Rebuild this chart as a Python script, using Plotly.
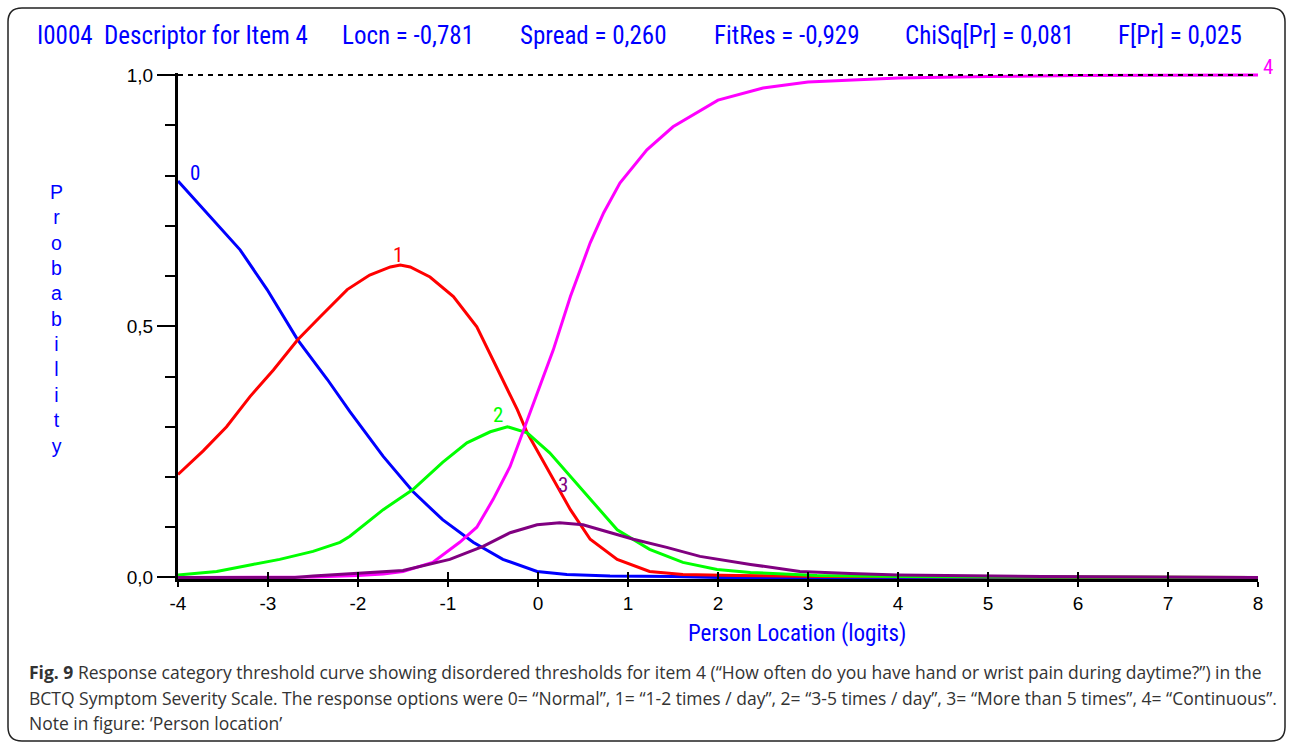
import plotly.graph_objects as go

# ---------------- data ----------------
x_cat0 = [-4, -3.64, -3.31, -3.01, -2.67, -2.34, -2.09, -1.72, -1.39, -1.06, -0.72, -0.39, -0.01, 0.32, 0.8, 1.5, 2.0, 8]
p_cat0 = [0.789, 0.718, 0.652, 0.573, 0.473, 0.394, 0.330, 0.241, 0.171, 0.115, 0.070, 0.036, 0.012, 0.006, 0.003, 0.002, 0.0, 0.0]

x_cat1 = [-4, -3.72, -3.46, -3.2, -2.94, -2.67, -2.42, -2.12, -1.87, -1.64, -1.53, -1.42, -1.2, -0.94, -0.68, -0.46,
          -0.23, -0.12, 0.13, 0.36, 0.58, 0.88, 1.24, 1.61, 2.2, 3.2, 8]
p_cat1 = [0.205, 0.252, 0.300, 0.360, 0.413, 0.473, 0.519, 0.573, 0.602, 0.618, 0.622, 0.618, 0.598, 0.559, 0.499, 0.419,
          0.334, 0.288, 0.209, 0.135, 0.076, 0.036, 0.012, 0.006, 0.004, 0.002, 0.0]

x_cat2 = [-4, -3.57, -3.17, -2.87, -2.5, -2.2, -2.09, -1.72, -1.39, -1.06, -0.79, -0.53, -0.34, -0.12, 0.13, 0.36,
          0.58, 0.88, 1.24, 1.61, 1.99, 2.36, 3.1, 4, 5.6, 8]
p_cat2 = [0.005, 0.012, 0.026, 0.036, 0.052, 0.070, 0.082, 0.135, 0.175, 0.229, 0.268, 0.290, 0.300, 0.288, 0.248, 0.201,
          0.155, 0.095, 0.056, 0.030, 0.016, 0.010, 0.004, 0.002, 0.001, 0.0]

x_cat3 = [-4, -2.7, -2.5, -2.0, -1.5, -0.98, -0.61, -0.31, -0.01, 0.24, 0.5, 0.77, 1.06, 1.43, 1.8, 2.36, 2.91, 3.47,
          4.0, 5.6, 8]
p_cat3 = [0.0, 0.0, 0.003, 0.008, 0.014, 0.036, 0.062, 0.089, 0.105, 0.109, 0.105, 0.091, 0.076, 0.060, 0.042, 0.026,
          0.012, 0.008, 0.005, 0.002, 0.0]

x_cat4 = [-4, -2.5, -2.0, -1.72, -1.5, -1.17, -0.87, -0.68, -0.5, -0.31, -0.2, -0.09, -0.01, 0.17, 0.36, 0.58, 0.73,
          0.91, 1.21, 1.5, 2.0, 2.5, 3.0, 4.0, 5.0, 6.0, 8.0]
p_cat4 = [0.0, 0.001, 0.004, 0.007, 0.012, 0.030, 0.070, 0.100, 0.155, 0.221, 0.274, 0.328, 0.365, 0.453, 0.559, 0.666,
          0.726, 0.785, 0.851, 0.897, 0.950, 0.974, 0.986, 0.994, 0.997, 0.999, 1.0]

categories = ["0", "1", "2", "3", "4"]
colors = ["#0000FF", "#FF0000", "#00FF00", "#800080", "#FF00FF"]
label_pos = [(-3.81, 0.805), (-1.56, 0.642), (-0.44, 0.324), (0.28, 0.185), (8.11, 1.016)]

x_ticks = [-4, -3, -2, -1, 0, 1, 2, 3, 4, 5, 6, 7, 8]
x_ticktext = ["-4", "-3", "-2", "-1", "0", "1", "2", "3", "4", "5", "6", "7", "8"]

title_parts = ["I0004  Descriptor for Item 4", "Locn = -0,781", "Spread = 0,260", "FitRes = -0,929",
               "ChiSq[Pr] = 0,081", "F[Pr] = 0,025"]
title_px = [35, 340, 518, 712, 903, 1116]

caption_lines = [
    "<b>Fig. 9</b> Response category threshold curve showing disordered thresholds for item 4 (\u201cHow often do you have hand or wrist pain during daytime?\u201d) in the",
    "BCTQ Symptom Severity Scale. The response options were 0= \u201cNormal\u201d, 1= \u201c1-2 times / day\u201d, 2= \u201c3-5 times / day\u201d, 3= \u201cMore than 5 times\u201d, 4= \u201cContinuous\u201d.",
    "Note in figure: \u2018Person location\u2019",
]

# ---------------- layout geometry ----------------
W, H = 1292, 745
ML, MR, MT, MB = 178, 34, 73, 166
PW, PH = W - ML - MR, H - MT - MB
XR = [x_ticks[0], x_ticks[-1]]
YR = [-0.003, 1.004]


def px_x(px):
    return (px - ML) / PW


def px_y(py):
    return (H - MB - py) / PH


def dx_to_paper(v):
    return (v - XR[0]) / (XR[1] - XR[0])


def dy_to_paper(v):
    return (v - YR[0]) / (YR[1] - YR[0])


NARROW = "Liberation Sans Narrow, Arial Narrow, Roboto Condensed, Liberation Sans, sans-serif"

fig = go.Figure()

xs = [x_cat0, x_cat1, x_cat2, x_cat4, x_cat3]
ps = [p_cat0, p_cat1, p_cat2, p_cat4, p_cat3]
order = [0, 1, 2, 4, 3]
for i, xv, pv in zip(order, xs, ps):
    fig.add_trace(go.Scatter(x=xv, y=pv, mode="lines", line=dict(color=colors[i], width=3),
                             showlegend=False, hoverinfo="skip"))

# dashed line at probability 1
fig.add_trace(go.Scatter(x=XR, y=[1, 1], mode="lines",
                         line=dict(color="black", width=2, dash="5px,5px"), showlegend=False, hoverinfo="skip"))
# helper trace for overlay axis
fig.add_trace(go.Scatter(x=[x_ticks[0]], y=[0], xaxis="x2", mode="markers", marker=dict(opacity=0),
                         showlegend=False, hoverinfo="skip"))

for cat, col, (lx, ly) in zip(categories, colors, label_pos):
    fig.add_annotation(x=dx_to_paper(lx), y=dy_to_paper(ly), xref="paper", yref="paper", text=cat,
                       showarrow=False, font=dict(color=col, size=21, family=NARROW),
                       xanchor="center", yanchor="middle")

for txt, px in zip(title_parts, title_px):
    fig.add_annotation(x=px_x(px), y=px_y(36), xref="paper", yref="paper", text=txt, showarrow=False,
                       xanchor="left", yanchor="middle", font=dict(color="#0000FF", size=25, family=NARROW))

fig.add_annotation(x=px_x(797), y=px_y(633), xref="paper", yref="paper", text="Person Location (logits)",
                   showarrow=False, xanchor="center", yanchor="middle",
                   font=dict(color="#0000FF", size=23, family=NARROW))

fig.add_annotation(x=px_x(56), y=px_y(319), xref="paper", yref="paper",
                   text="<br>".join(list("Probability")), showarrow=False, xanchor="center", yanchor="middle",
                   font=dict(color="#0000FF", size=19.5, family="Liberation Sans, Arial, sans-serif"))

for k, line in enumerate(caption_lines):
    fig.add_annotation(x=px_x(27), y=px_y(672 + 25.5 * k), xref="paper", yref="paper", text=line,
                       showarrow=False, xanchor="left", yanchor="middle",
                       font=dict(color="#333333", size=17.5, family="Open Sans, sans-serif"))

# rounded outer frame
x0, x1, y0, y1, r = px_x(8), px_x(1285), px_y(8), px_y(741), 14
rx, ry = r / PW, r / PH
path = (f"M {x0+rx},{y0} L {x1-rx},{y0} Q {x1},{y0} {x1},{y0-ry} L {x1},{y1+ry} Q {x1},{y1} {x1-rx},{y1} "
        f"L {x0+rx},{y1} Q {x0},{y1} {x0},{y1+ry} L {x0},{y0-ry} Q {x0},{y0} {x0+rx},{y0} Z")
fig.add_shape(type="path", path=path, xref="paper", yref="paper", line=dict(color="#222222", width=1.5))

tick_font = dict(color="black", size=19, family="Liberation Sans, Arial, sans-serif")
fig.update_layout(
    width=W, height=H, margin=dict(l=ML, r=MR, t=MT, b=MB, autoexpand=False),
    paper_bgcolor="white", plot_bgcolor="white", separators=",.",
    xaxis=dict(range=XR, tickmode="array", tickvals=x_ticks, ticktext=x_ticktext,
               ticks="outside", ticklen=5, tickwidth=2, tickcolor="black", showline=True, linewidth=3,
               linecolor="black", showgrid=False, zeroline=False, tickfont=tick_font),
    xaxis2=dict(range=XR, overlaying="x", side="bottom", anchor="y", tickmode="array",
                tickvals=x_ticks, ticks="inside", ticklen=7, tickwidth=2, tickcolor="black",
                showticklabels=False, showline=False, showgrid=False, zeroline=False),
    yaxis=dict(range=YR, tickmode="linear", tick0=0, dtick=0.5, tickformat=".1f",
               ticks="outside", ticklen=18, tickwidth=2, tickcolor="black", showline=True, linewidth=3,
               linecolor="black", showgrid=False, zeroline=False, tickfont=tick_font,
               minor=dict(dtick=0.1, tick0=0, ticklen=10, tickwidth=2, tickcolor="black", ticks="outside",
                          showgrid=False)),
)

fig.write_html("out.html")
